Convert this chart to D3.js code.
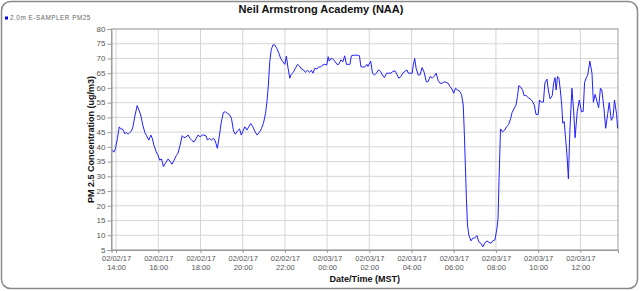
<!DOCTYPE html>
<html><head><meta charset="utf-8">
<script src="https://cdn.jsdelivr.net/npm/d3@7"></script>
<style>body{margin:0;background:#fff}svg{display:block}</style>
</head><body><svg id="c" width="640" height="291"></svg>
<script>
const title = "Neil Armstrong Academy (NAA)";
const seriesName = "2.0m E-SAMPLER PM25";
const yTitle = "PM 2.5 Concentration (ug/m3)";
const xTitle = "Date/Time (MST)";
const yTicks = [5,10,15,20,25,30,35,40,45,50,55,60,65,70,75,80];
// window: 02/02/17 13:47 -> 02/03/17 13:47 (minutes since 02/02/17 00:00)
const windowStartMin = 827, windowEndMin = 2267;
const minutes = [829,834,838,844,849,853,859,865,869,874,879,884,888,893,900,905,910,916,922,927,933,939,943,948,954,959,964,969,975,980,988,994,999,1005,1011,1016,1022,1028,1033,1039,1045,1050,1056,1062,1067,1073,1079,1085,1090,1096,1100,1105,1111,1117,1122,1128,1134,1139,1145,1151,1157,1162,1168,1174,1179,1185,1191,1196,1201,1206,1212,1217,1223,1229,1234,1241,1247,1253,1259,1265,1269,1273,1277,1281,1286,1291,1297,1303,1308,1314,1320,1324,1329,1334,1338,1344,1350,1356,1361,1367,1373,1378,1384,1390,1395,1400,1405,1411,1416,1422,1428,1433,1439,1443,1446,1451,1456,1462,1468,1473,1479,1485,1490,1495,1500,1505,1509,1515,1520,1526,1532,1536,1541,1547,1553,1556,1564,1569,1575,1580,1586,1592,1597,1603,1609,1615,1621,1627,1633,1638,1644,1650,1655,1661,1667,1671,1676,1682,1685,1689,1693,1699,1704,1710,1716,1722,1727,1733,1739,1744,1750,1756,1761,1767,1773,1778,1784,1790,1795,1800,1805,1811,1816,1822,1827,1830,1833,1836,1839,1843,1849,1854,1860,1866,1871,1877,1883,1888,1894,1900,1906,1911,1917,1923,1926,1929,1933,1939,1945,1950,1956,1962,1966,1972,1977,1981,1985,1991,1996,2000,2006,2012,2017,2023,2029,2034,2040,2044,2049,2055,2059,2065,2069,2074,2080,2084,2088,2091,2095,2099,2103,2107,2110,2114,2118,2122,2126,2130,2136,2141,2145,2151,2157,2163,2168,2172,2178,2181,2187,2193,2197,2202,2208,2212,2217,2221,2227,2232,2238,2242,2248,2253,2257,2263,2266];
const pm25 = [38.9,38.2,39.3,42.9,46.8,46.1,46.0,44.4,44.9,44.3,44.9,45.4,46.8,50.2,54.0,52.5,50.8,47.4,44.8,43.7,42.3,44.0,42.9,40.4,38.4,37.2,35.5,35.9,33.3,34.4,35.9,35.0,34.1,35.5,37.0,37.8,40.6,43.8,43.1,43.4,44.0,42.9,42.1,41.7,42.7,44.0,43.4,44.0,44.0,43.7,42.3,42.9,42.3,42.9,42.0,39.5,44.0,48.3,51.7,51.9,51.3,51.0,49.7,45.4,44.3,45.4,46.1,44.0,45.4,46.8,45.7,46.8,47.9,46.8,45.4,44.0,44.9,46.1,48.0,51.4,55.3,61.0,68.9,72.9,74.6,74.6,73.4,71.7,70.0,68.9,68.0,70.8,66.7,63.3,64.6,65.3,66.7,68.0,67.5,66.4,66.1,65.3,66.0,65.3,66.0,65.0,66.7,66.4,67.1,67.2,67.8,68.0,67.8,70.6,69.1,70.0,69.8,69.1,68.0,68.0,69.5,68.9,70.9,68.0,68.0,68.0,70.9,71.1,71.1,71.1,70.9,67.2,67.1,67.1,68.0,67.3,69.1,65.0,64.4,65.0,66.1,65.6,64.4,63.5,65.0,65.0,65.0,65.6,65.8,64.7,63.3,63.9,65.0,65.6,66.1,65.0,65.0,65.0,67.8,70.0,66.7,64.4,64.4,66.9,65.3,62.1,62.1,63.9,63.3,63.9,65.0,62.4,61.6,61.6,62.1,61.9,61.6,60.4,59.6,58.2,59.9,59.3,59.0,57.8,54.2,45.1,33.8,22.5,13.5,10.1,8.1,9.0,9.1,9.9,7.8,7.3,6.1,7.3,8.1,7.6,7.3,8.1,8.4,12.4,15.8,30.0,46.1,45.1,45.7,46.8,47.6,49.7,51.7,53.1,54.2,57.0,60.8,60.2,59.2,57.4,57.4,56.7,56.3,55.6,54.2,51.0,51.0,55.9,55.2,55.2,61.6,63.0,59.3,56.3,57.4,61.6,63.5,59.3,63.9,63.3,59.3,54.2,48.0,48.6,42.9,37.2,29.1,45.0,59.9,51.9,43.1,51.9,55.9,51.9,52.0,61.9,63.8,64.4,69.1,65.0,55.1,57.8,55.1,53.3,59.9,59.3,53.1,46.3,51.4,55.0,49.0,50.1,55.9,51.0,46.3];

const toDate = m => new Date(2017, 1, 2, 0, m);
const data = minutes.map((m, i) => ({t: toDate(m), v: pm25[i]}));

const W = 640, H = 291;
const plot = {left: 111.5, right: 618, top: 29, bottom: 250};
const svg = d3.select("#c");
const font = "'Liberation Sans', Arial, Helvetica, sans-serif";

// outer frame
svg.append("rect").attr("x", 1.5).attr("y", 1.5).attr("width", W - 4).attr("height", H - 4)
  .attr("rx", 9).attr("fill", "#fff").attr("stroke", "#8a8a8a").attr("stroke-width", 1.5);

const x = d3.scaleTime().domain([toDate(windowStartMin), toDate(windowEndMin)]).range([plot.left, plot.right]);
const y = d3.scaleLinear().domain([5, 80]).range([plot.bottom, plot.top]);
const xTicks = d3.timeHour.every(2).range(toDate(windowStartMin), toDate(windowEndMin));

// gridlines
const g = svg.append("g");
g.selectAll(".hg").data(yTicks).join("line")
  .attr("x1", plot.left).attr("x2", plot.right)
  .attr("y1", d => y(d)).attr("y2", d => y(d))
  .attr("stroke", "#d6d6d6").attr("stroke-width", 1);
g.selectAll(".vg").data(xTicks).join("line")
  .attr("x1", d => x(d)).attr("x2", d => x(d))
  .attr("y1", plot.top).attr("y2", plot.bottom)
  .attr("stroke", "#d6d6d6").attr("stroke-width", 1);

// plot frame
svg.append("rect").attr("x", plot.left).attr("y", plot.top)
  .attr("width", plot.right - plot.left).attr("height", plot.bottom - plot.top)
  .attr("fill", "none").attr("stroke", "#a0a0a0").attr("stroke-width", 1);

// y axis
const yAxis = d3.axisLeft(y).tickValues(yTicks).tickSize(4).tickPadding(2);
const ya = svg.append("g").attr("transform", `translate(${plot.left},0)`).call(yAxis);
ya.select(".domain").attr("stroke", "#999");
ya.selectAll(".tick line").attr("stroke", "#999");
ya.selectAll("text").attr("font-family", font).attr("font-size", 8).attr("fill", "#555")
  .attr("dy", "0.28em");

// x axis
const xAxis = d3.axisBottom(x).tickValues(xTicks).tickSize(3).tickFormat(() => "");
const xa = svg.append("g").attr("transform", `translate(0,${plot.bottom})`).call(xAxis);
xa.select(".domain").attr("stroke", "#999");
xa.selectAll(".tick line").attr("stroke", "#999");
const fmtD = d3.timeFormat("%m/%d/%y"), fmtT = d3.timeFormat("%H:%M");
xa.selectAll(".tick text").each(function(d) {
  const t = d3.select(this).attr("y", null).attr("dy", null)
    .attr("font-family", font).attr("font-size", 7.5).attr("fill", "#555");
  t.append("tspan").attr("x", 0).attr("y", 11).text(fmtD(d));
  t.append("tspan").attr("x", 0).attr("y", 20).text(fmtT(d));
});

// line
svg.append("path").datum(data)
  .attr("d", d3.line().x(d => x(d.t)).y(d => y(d.v)))
  .attr("fill", "none").attr("stroke", "#2020ff").attr("stroke-width", 1);

// title
svg.append("text").attr("x", 321).attr("y", 13).attr("text-anchor", "middle")
  .attr("font-family", font).attr("font-weight", "bold").attr("font-size", 11).attr("fill", "#111").text(title);

// legend
svg.append("rect").attr("x", 5).attr("y", 16.5).attr("width", 3).attr("height", 3).attr("fill", "#0000ee");
svg.append("text").attr("x", 10).attr("y", 20).attr("font-family", font).attr("font-size", 6.3)
  .attr("fill", "#666").attr("letter-spacing", 0.55).text(seriesName);

// axis titles
svg.append("text").attr("transform", `translate(94,${(plot.top + plot.bottom) / 2}) rotate(-90)`)
  .attr("text-anchor", "middle").attr("font-family", font).attr("font-weight", "bold")
  .attr("font-size", 9).attr("fill", "#111").text(yTitle);
svg.append("text").attr("x", (plot.left + plot.right) / 2).attr("y", 282).attr("text-anchor", "middle")
  .attr("font-family", font).attr("font-weight", "bold").attr("font-size", 9).attr("fill", "#111").text(xTitle);
</script></body></html>
